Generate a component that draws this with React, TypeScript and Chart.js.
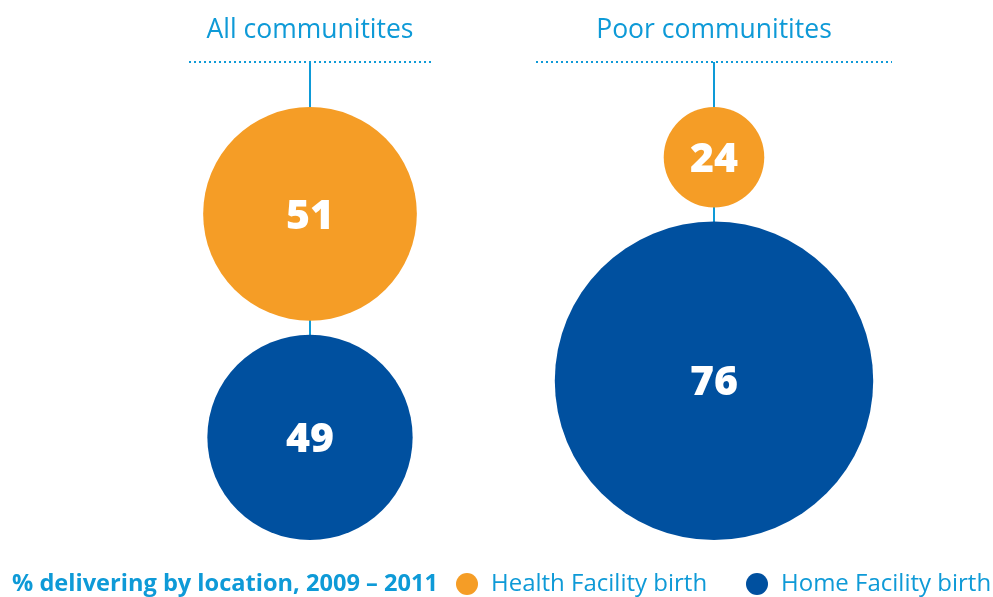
import React, { useEffect, useRef } from "react";
import { Chart, registerables } from "chart.js";

Chart.register(...registerables);

const groups = ["All communitites", "Poor communitites"];
const healthFacility = [51, 24];
const homeFacility = [49, 76];
const seriesNames = ["Health Facility birth", "Home Facility birth"];
const footnote = "% delivering by location, 2009 – 2011";

const W = 993;
const H = 597;
const K = 2.095; // px per value unit (bubble radius)
const GAP = 14 / K; // gap between bubbles, value units
const BASE_PX = 540;
const COL_PX = [310, 714];

const ORANGE = "#F59D26";
const BLUE = "#00509F";
const LIGHT = "#0E9AD7";

export default function App() {
  const ref = useRef<HTMLCanvasElement | null>(null);
  useEffect(() => {
    const canvas = ref.current!;
    const pxPerX = COL_PX[1] - COL_PX[0];
    const xMin = -COL_PX[0] / pxPerX;
    const xMax = (W - COL_PX[0]) / pxPerX;
    const yMin = -(H - BASE_PX) / K;
    const yMax = BASE_PX / K;

    const homeData = homeFacility.map((v, i) => ({ x: i, y: v, r: v * K, v }));
    const healthData = healthFacility.map((v, i) => ({
      x: i,
      y: 2 * homeFacility[i] + GAP + v,
      r: v * K,
      v,
    }));

    const deco = {
      id: "deco",
      beforeDatasetsDraw(chart: any) {
        const ctx = chart.ctx;
        const xs = chart.scales.x;
        const ys = chart.scales.y;
        ctx.save();
        groups.forEach((g, i) => {
          const cx = xs.getPixelForValue(i);
          // title
          ctx.fillStyle = LIGHT;
          ctx.font = "26.5px 'Open Sans'";
          ctx.textAlign = "center";
          ctx.textBaseline = "alphabetic";
          ctx.fillText(g, cx, 38);
          // dotted line
          const half = i === 0 ? 121 : 178;
          ctx.strokeStyle = LIGHT;
          ctx.lineWidth = 2;
          ctx.setLineDash([2, 3]);
          ctx.beginPath();
          ctx.moveTo(cx - half, 62);
          ctx.lineTo(cx + half, 62);
          ctx.stroke();
          ctx.setLineDash([]);
          // vertical connector
          ctx.beginPath();
          ctx.moveTo(cx, 62);
          ctx.lineTo(cx, ys.getPixelForValue(homeFacility[i]));
          ctx.stroke();
        });
        ctx.restore();
      },
      afterDatasetsDraw(chart: any) {
        const ctx = chart.ctx;
        ctx.save();
        ctx.fillStyle = "#ffffff";
        ctx.font = "800 41px 'Open Sans'";
        ctx.textAlign = "center";
        ctx.textBaseline = "middle";
        chart.data.datasets.forEach((ds: any, di: number) => {
          const meta = chart.getDatasetMeta(di);
          meta.data.forEach((el: any, j: number) => {
            ctx.fillText(String(ds.data[j].v), el.x, el.y + 3);
          });
        });
        // footer legend
        ctx.textBaseline = "middle";
        ctx.textAlign = "left";
        ctx.fillStyle = LIGHT;
        ctx.font = "bold 23.6px 'Open Sans'";
        ctx.fillText(footnote, 12, 584);
        const items = [
          { c: ORANGE, t: seriesNames[0], x: 467 },
          { c: BLUE, t: seriesNames[1], x: 757 },
        ];
        items.forEach((it) => {
          ctx.fillStyle = it.c;
          ctx.beginPath();
          ctx.arc(it.x, 584, 11, 0, Math.PI * 2);
          ctx.fill();
          ctx.fillStyle = LIGHT;
          ctx.font = "24px 'Open Sans'";
          ctx.fillText(it.t, it.x + 24, 584);
        });
        ctx.restore();
      },
    };

    const chart = new Chart(canvas, {
      type: "bubble",
      data: {
        datasets: [
          {
            label: seriesNames[0],
            data: healthData,
            backgroundColor: ORANGE,
            borderWidth: 0,
            hoverBorderWidth: 0,
          },
          {
            label: seriesNames[1],
            data: homeData,
            backgroundColor: BLUE,
            borderWidth: 0,
            hoverBorderWidth: 0,
          },
        ],
      },
      options: {
        responsive: false,
        animation: false,
        layout: { padding: 0, autoPadding: false },
        scales: {
          x: { type: "linear", min: xMin, max: xMax, display: false },
          y: { type: "linear", min: yMin, max: yMax, display: false },
        },
        plugins: {
          legend: { display: false },
          tooltip: { enabled: false },
        },
        events: [],
        clip: false,
      } as any,
      plugins: [deco],
    });
    return () => chart.destroy();
  }, []);

  return (
    <div style={{ position: "fixed", left: 0, top: 0, width: W, height: H, background: "#fff" }}>
      <canvas ref={ref} width={W} height={H} style={{ width: W, height: H, display: "block" }} />
    </div>
  );
}
